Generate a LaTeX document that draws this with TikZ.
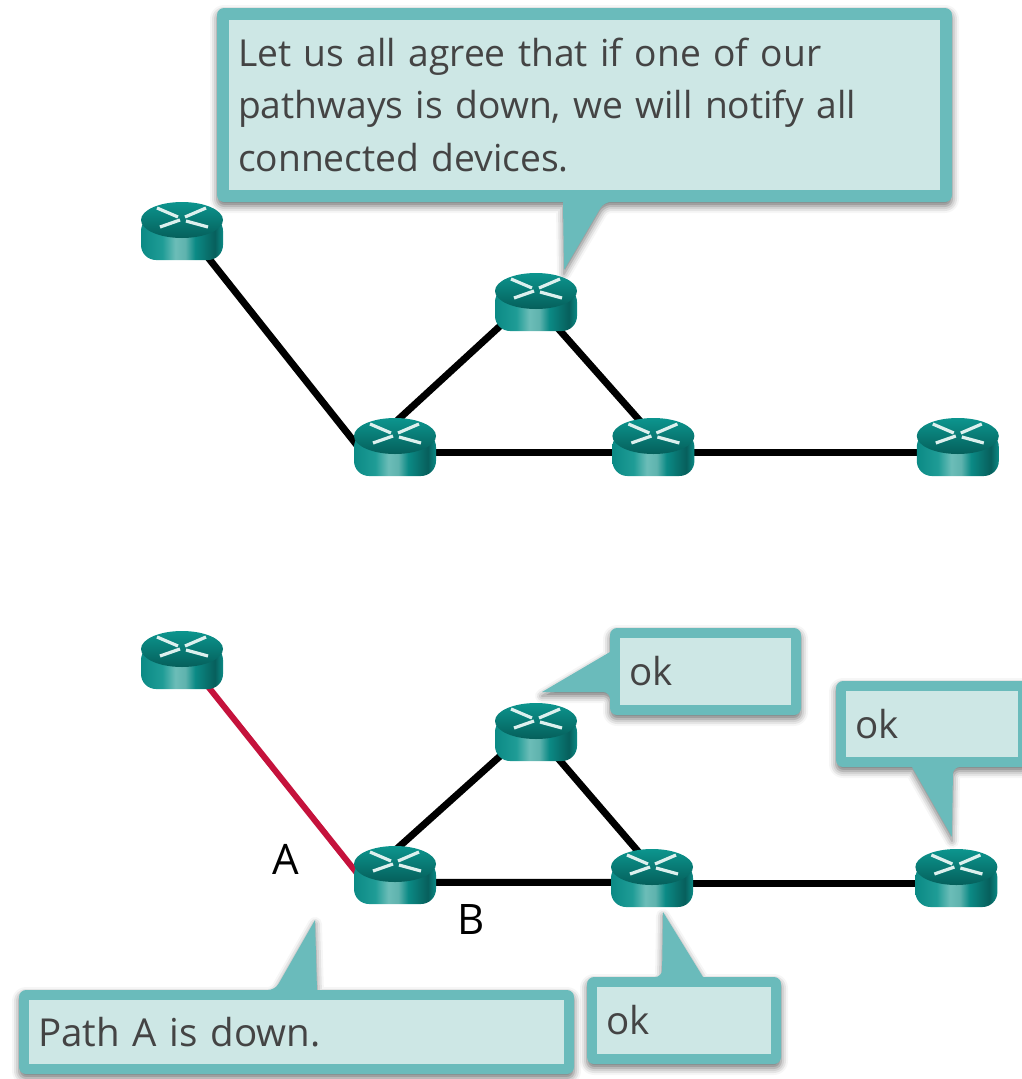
\documentclass[tikz,border=0pt]{standalone}
\usepackage{fontspec}
\setmainfont{Open Sans}
\usetikzlibrary{positioning,backgrounds,shadows.blur}
\definecolor{bubbleedge}{HTML}{6ABBBB}
\definecolor{bubblefill}{HTML}{CDE7E5}
\definecolor{bubbletext}{HTML}{444444}
\definecolor{pathdown}{HTML}{C5123C}
\definecolor{rtredge}{HTML}{0B8A85}
\definecolor{rtrmid}{HTML}{1F9C96}
\definecolor{rtrlight}{HTML}{6CBDB8}
\definecolor{rtrlight2}{HTML}{5FB3AE}
\definecolor{rtrdark}{HTML}{075F5C}
\definecolor{rtrtop}{HTML}{0C958E}
\definecolor{rtrrim}{HTML}{055F5B}
\definecolor{rtrmark}{HTML}{DDF0EE}
\pgfdeclarehorizontalshading{rtrbody}{100bp}{color(0bp)=(rtredge);color(25bp)=(rtredge);color(38bp)=(rtrmid);color(46bp)=(rtrlight);color(52bp)=(rtrlight2);color(58bp)=(rtredge);color(70bp)=(rtrdark);color(75bp)=(rtredge);color(100bp)=(rtredge)}
\tikzset{
  rtr/.style={rectangle,rounded corners=15pt,minimum width=82pt,minimum height=58pt,inner sep=0pt,
    path picture={
      \begin{scope}[shift={(path picture bounding box.center)}]
      \shade[shading=rtrbody] (-41,-15) rectangle (41,29);
      \shade[top color=rtrtop,bottom color=rtrrim] (0,-11) ellipse [x radius=41pt,y radius=18pt];
      \draw[rtrmark,line width=3.2pt] (-25,-23) -- (-4,-14) (24,-23) -- (3,-14) (-22,-4) -- (-2,-11) (26,-4) -- (4,-10);
      \end{scope}
    }},
  link/.style={line width=7pt,black,shorten <=-8pt,shorten >=-8pt},
  linkdown/.style={line width=6pt,pathdown,shorten <=-8pt,shorten >=-8pt},
  bubble/.style 2 args={rectangle,fill=bubblefill,text=bubbletext,minimum width=#1pt,minimum height=#2pt,
    text width=#1pt-18pt,inner xsep=9pt,inner ysep=0pt,outer sep=10pt,align=left,
    font=\fontsize{38.5}{52.5}\selectfont},
  bubbleback/.style={fill=bubbleedge,rounded corners=7pt,blur shadow={shadow xshift=0pt,shadow yshift=-4pt,shadow blur radius=7pt,shadow opacity=55}},
  pathlabel/.style={inner sep=0pt,text=black,font=\fontsize{42}{50}\selectfont}
}
\begin{document}
\begin{tikzpicture}[x=1pt,y=-1pt]
\useasboundingbox (0,0) rectangle (1022,1079);
\node[rtr] (topA) at (182,231) {};
\node[rtr] (topC) at (395,447) {};
\node[rtr] (topB) at (536,302) {};
\node[rtr] (topD) [right=176pt of topC] {};
\node[rtr] (topE) [right=222pt of topD] {};
\node[rtr] (lowA) at (182,660) {};
\node[rtr] (lowC) at (395,875) {};
\node[rtr] (lowB) at (536,732) {};
\node[rtr] (lowD) at (652,878) {};
\node[rtr] (lowE) [right=222pt of lowD] {};
\node[pathlabel] (labelA) at (286,859) {A};
\node[pathlabel] (labelB) at (471,919) {B};
\node[bubble={711}{170},outer sep=12pt,font=\fontsize{37.2}{52.5}\selectfont] (noteAgree) at (584.5,105) {Let us all agree that if one of our\\pathways is down, we will notify all\\connected devices.};
\node[bubble={171}{67}] (okB) at (705.5,671.5) {ok};
\node[bubble={172}{66}] (okE) at (932,724) {ok};
\node[bubble={535}{64}] (noteDown) at (296.5,1032) {Path A is down.};
\node[bubble={174}{67}] (okD) at (684,1020.5) {ok};
\begin{scope}[on background layer]
\draw[link] (topA.-46) -- (topC.172);
\draw[link] (topC.80) -- (topB.215);
\draw[link] (topB.-50) -- (topD.119);
\draw[link] (topC.-8) -- (topD.188);
\draw[link] (topD.-8) -- (topE.188);
\draw[linkdown] (lowA.-46) -- (lowC.172);
\draw[link] (lowC.80) -- (lowB.215);
\draw[link] (lowB.-50) -- (lowD.119);
\draw[link] (lowC.-10) -- (lowD.186);
\draw[link] (lowD.-8) -- (lowE.188);
\path[bubbleback] (noteAgree.north west) -- (noteAgree.north east) -- (noteAgree.south east) -- (604,202) [sharp corners] -- (564,270) -- (563,202) [rounded corners=7pt] -- (noteAgree.south west) -- cycle;
\path[bubbleback] (okB.north west) -- (okB.north east) -- (okB.south east) -- (okB.south west) -- (610,692) [sharp corners] -- (542,692) -- (610,652) [rounded corners=7pt] -- cycle;
\path[bubbleback] (okE.north west) -- (okE.north east) -- (okE.south east) -- (953,767) [sharp corners] -- (952,837) -- (912,767) [rounded corners=7pt] -- (okE.south west) -- cycle;
\path[bubbleback] (noteDown.north west) -- (275,990) [sharp corners] -- (315,920) -- (317,990) [rounded corners=7pt] -- (noteDown.north east) -- (noteDown.south east) -- (noteDown.south west) -- cycle;
\path[bubbleback] (okD.north west) -- (662,977) [sharp corners] -- (663,912) -- (703,977) [rounded corners=7pt] -- (okD.north east) -- (okD.south east) -- (okD.south west) -- cycle;
\end{scope}
\end{tikzpicture}
\end{document}
